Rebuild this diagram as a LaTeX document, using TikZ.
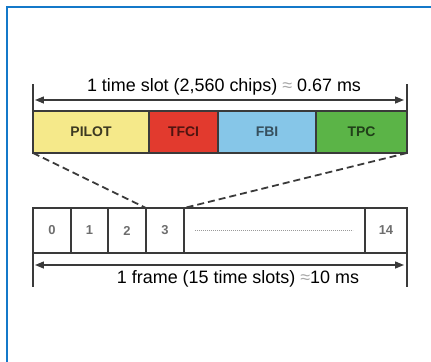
\documentclass[tikz,border=0pt]{standalone}
\usepackage{fontspec}
\setmainfont{Liberation Sans}
\usepackage{tikz}
\usetikzlibrary{
  arrows.meta,
  positioning
}
\definecolor{FrameBlue}{HTML}{1479C9}
\definecolor{PilotYel}{HTML}{F5E98A}
\definecolor{TfciRed}{HTML}{E23A2E}
\definecolor{FbiBlue}{HTML}{86C6E8}
\definecolor{TpcGreen}{HTML}{5BB447}
\definecolor{EdgeGray}{HTML}{3A3A3A}
\definecolor{NumGray}{HTML}{6E6E6E}
\tikzset{
  % Field of the time slot
  field/.style={
    rectangle, draw=EdgeGray, line width=1.2pt, fill=#1,
    minimum height=42bp, inner sep=0pt, outer sep=0pt,
    font=\fontsize{14}{16}\selectfont\bfseries
  },
  % Slot of the frame
  slotbox/.style={
    rectangle, draw=EdgeGray, line width=1.2pt, fill=white,
    minimum height=45bp, inner sep=0pt, outer sep=0pt,
    font=\fontsize{13}{15}\selectfont\bfseries, text=NumGray
  },
  % Dimension arrow
  dim/.style={
    {Triangle[length=9bp,width=7bp]}-{Triangle[length=9bp,width=7bp]},
    line width=1.4pt, color=EdgeGray
  },
  % Dimension tick
  tick/.style={line width=1.2pt, color=EdgeGray},
  % Zoom line
  zoomln/.style={line width=1.8pt, color=EdgeGray, dash pattern=on 7bp off 4bp},
  % Dimension text
  dimtxt/.style={font=\fontsize{18}{21}\selectfont, inner sep=1pt}
}
\begin{document}
\begin{tikzpicture}[x=1bp, y=-1bp]
  \useasboundingbox (0,0) rectangle (431,362);
  \draw[FrameBlue, line width=2pt] (7,362) -- (7,7) -- (431,7);

  % time slot fields
  \node[field=PilotYel, minimum width=116bp, text=black!75!PilotYel] (pilot) at (91,132)    {PILOT};
  \node[field=TfciRed,  minimum width=69bp,  text=black!65!TfciRed]  (tfci)  at (183.5,132) {TFCI};
  \node[field=FbiBlue,  minimum width=98bp,  text=black!60!FbiBlue]  (fbi)   at (267,132)   {FBI};
  \node[field=TpcGreen, minimum width=91bp,  text=black!65!TpcGreen] (tpc)   at (361.5,132) {TPC};

  % frame slots
  \node[slotbox, minimum width=38bp]  (s0)   at (52,230.5)    {0};
  \node[slotbox, minimum width=37bp]  (s1)   at (89.5,230.5)  {1};
  \node[slotbox, minimum width=38bp]  (s2)   at (127,230.5)   {2};
  \node[slotbox, minimum width=38bp]  (s3)   at (165,230.5)   {3};
  \node[slotbox, minimum width=181bp] (sdot) at (274.5,230.5) {};
  \node[slotbox, minimum width=42bp]  (s14)  at (386,230.5)   {14};
  \draw[NumGray!70, line width=1.2pt, dash pattern=on 1bp off 1bp]
    ([xshift=11bp]sdot.west) -- ([xshift=-12bp]sdot.east);

  % zoom lines
  \draw[zoomln] (pilot.south west) -- (s3.north west);
  \draw[zoomln] (tpc.south east)   -- (sdot.north west);

  % time slot dimension
  \coordinate (tl) at ([yshift=27bp]pilot.north west);
  \coordinate (tr) at ([yshift=27bp]tpc.north east);
  \draw[tick] (tl) -- (pilot.north west);
  \draw[tick] (tr) -- (tpc.north east);
  \draw[dim] ([shift={(2bp,-16bp)}]tl) -- ([shift={(-3bp,-16bp)}]tr);
  \node[dimtxt] (slottxt) at (224,87) {1 time slot (2,560 chips) {\color{NumGray!60}≈} 0.67 ms};

  % frame dimension
  \coordinate (bl) at ([yshift=-34bp]s0.south west);
  \coordinate (br) at ([yshift=-34bp]s14.south east);
  \draw[tick] (s0.south west) -- (bl);
  \draw[tick] (s14.south east) -- (br);
  \draw[dim] ([shift={(2bp,22bp)}]bl) -- ([shift={(-3bp,22bp)}]br);
  \node[dimtxt] (frametxt) at (238,279) {1 frame (15 time slots) {\color{NumGray!60}≈}10 ms};
\end{tikzpicture}
\end{document}
